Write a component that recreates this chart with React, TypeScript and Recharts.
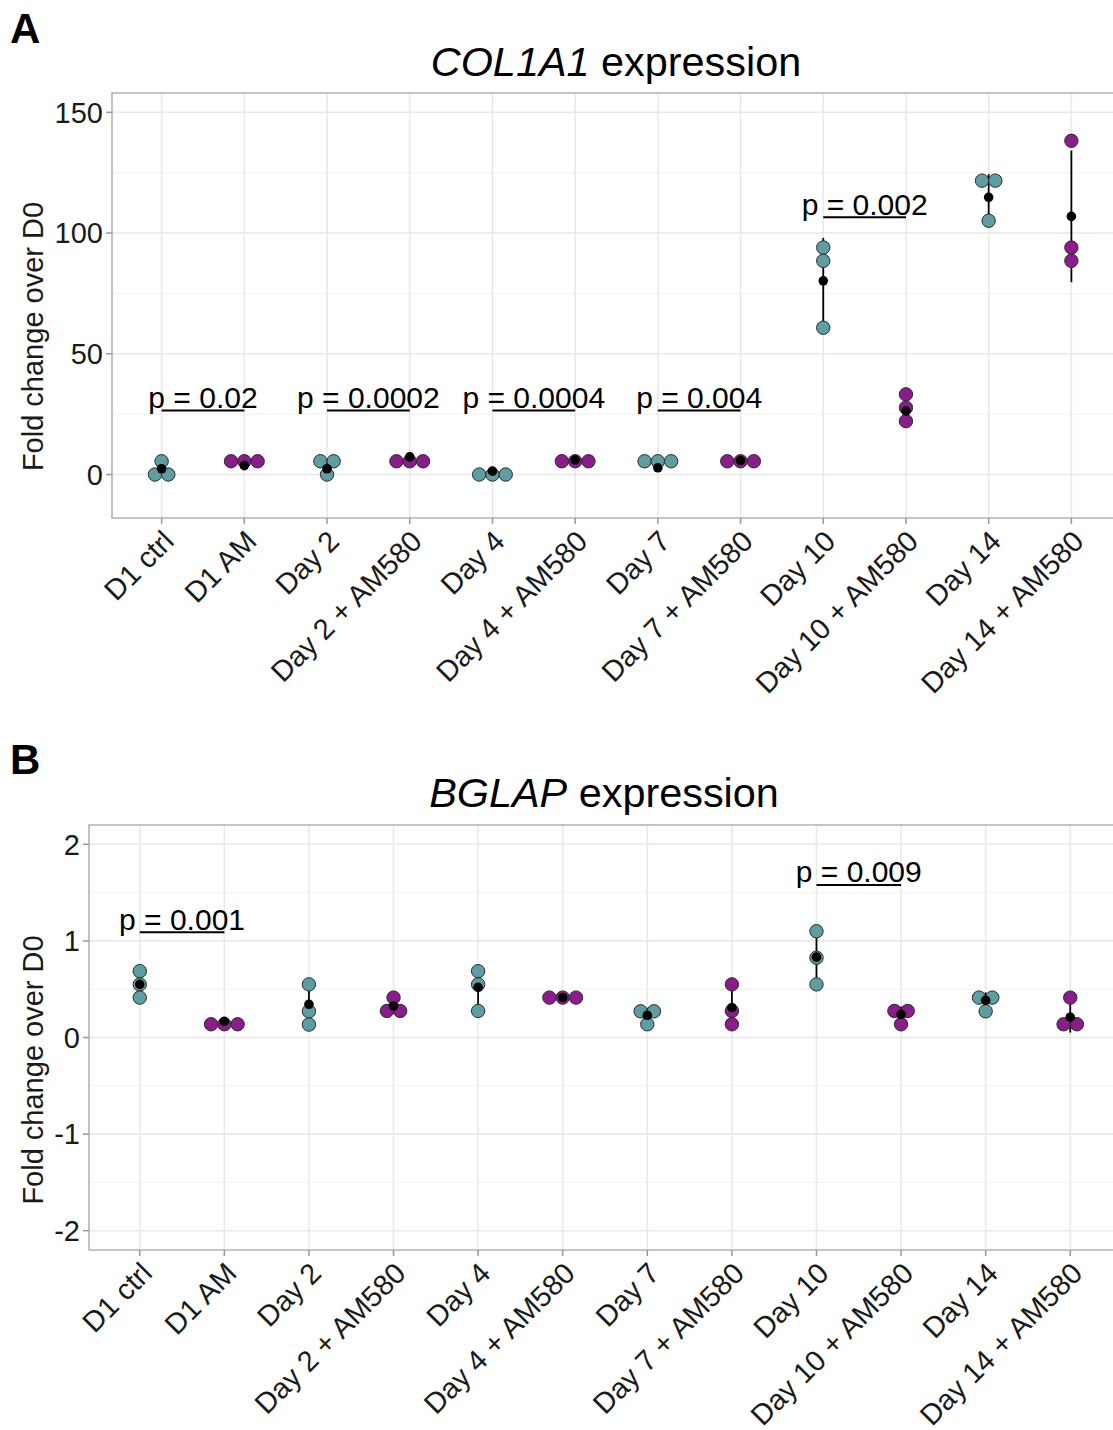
import React from "react";
import {
  CartesianGrid,
  ErrorBar,
  ReferenceArea,
  ReferenceLine,
  Scatter,
  ScatterChart,
  XAxis,
  YAxis,
} from "recharts";

const FONT = '"Liberation Sans", Arial, Helvetica, sans-serif';

const categories = [
  "D1 ctrl",
  "D1 AM",
  "Day 2",
  "Day 2 + AM580",
  "Day 4",
  "Day 4 + AM580",
  "Day 7",
  "Day 7 + AM580",
  "Day 10",
  "Day 10 + AM580",
  "Day 14",
  "Day 14 + AM580",
];

// replicate values per category, as the dots sit in the picture
const col1a1Reps = [
  [5.5, 0, 0],
  [5.5, 5.5, 5.5],
  [5.5, 5.5, 0],
  [5.5, 5.5, 5.5],
  [0, 0, 0],
  [5.5, 5.5, 5.5],
  [5.5, 5.5, 5.5],
  [5.5, 5.5, 5.5],
  [94.0, 88.5, 60.8],
  [33.2, 27.7, 22.1],
  [121.7, 121.7, 105.1],
  [138.2, 94.0, 88.5],
];
const col1a1Means = [2.4, 3.7, 2.4, 7.3, 1.4, 6.0, 2.8, 5.8, 80.2, 26.3, 114.8, 106.9];
const col1a1PFrom = [0, 2, 4, 6, 8];
const col1a1PY = [26.5, 26.5, 26.5, 26.5, 106.5];
const col1a1PLabels = ["p = 0.02", "p = 0.0002", "p = 0.0004", "p = 0.004", "p = 0.002"];
const col1a1Ticks = [0, 50, 100, 150];
const col1a1Minor = [25, 75, 125];

const bglapReps = [
  [0.687, 0.55, 0.413],
  [0.137, 0.137, 0.137],
  [0.55, 0.271, 0.134],
  [0.413, 0.275, 0.275],
  [0.687, 0.55, 0.275],
  [0.413, 0.413, 0.413],
  [0.271, 0.271, 0.137],
  [0.55, 0.275, 0.137],
  [1.1, 0.826, 0.55],
  [0.275, 0.275, 0.137],
  [0.413, 0.413, 0.271],
  [0.413, 0.137, 0.137],
];
const bglapMeans = [0.55, 0.168, 0.344, 0.326, 0.52, 0.413, 0.23, 0.31, 0.832, 0.24, 0.385, 0.21];
const bglapPFrom = [0, 8];
const bglapPY = [1.09, 1.58];
const bglapPLabels = ["p = 0.001", "p = 0.009"];
const bglapTicks = [-2, -1, 0, 1, 2];
const bglapMinor = [-1.5, -0.5, 0.5, 1.5];

const TEAL = "#5c9ea1";
const PURPLE = "#8b1c8b";
const DOT_R = 6.7;
const DOT_GAP = 13.3; // px between side-by-side dots
const CHART_W = 1122; // panel runs a little past the cropped right edge

function sd(vals: number[]) {
  const m = vals.reduce((a, b) => a + b, 0) / vals.length;
  return Math.sqrt(vals.reduce((a, b) => a + (b - m) ** 2, 0) / (vals.length - 1));
}

// centred dot-plot stacking: equal values sit side by side
function stackDots(reps: number[][], tol: number, step: number) {
  const pts: { x: number; y: number; treated: boolean }[] = [];
  reps.forEach((vals, i) => {
    const rows: number[][] = [];
    vals.forEach((v) => {
      const row = rows.find((r) => Math.abs(r[0] - v) < tol);
      if (row) row.push(v);
      else rows.push([v]);
    });
    rows.forEach((row) =>
      row.forEach((v, j) =>
        pts.push({ x: i + (j - (row.length - 1) / 2) * step, y: v, treated: i % 2 === 1 })
      )
    );
  });
  return pts;
}

function XTick(props: any) {
  const { x, y, payload } = props;
  const ax = x + 14;
  const ay = y + 19;
  return (
    <text
      x={ax}
      y={ay}
      textAnchor="end"
      transform={`rotate(-45 ${ax} ${ay})`}
      fontSize={29}
      fontFamily={FONT}
      fill="#1a1a1a"
    >
      {categories[payload.value]}
    </text>
  );
}

const Dot = (p: any) => (
  <circle
    cx={p.cx}
    cy={p.cy}
    r={DOT_R}
    fill={p.payload.treated ? PURPLE : TEAL}
    stroke="#2b2b2b"
    strokeWidth={1}
  />
);

const MeanDot = (p: any) => <circle cx={p.cx} cy={p.cy} r={4.8} fill="#000" />;

const PText = (p: any) => (
  <text x={p.cx} y={p.cy - 2.5} textAnchor="middle" fontSize={30} fontFamily={FONT} fill="#000">
    {p.payload.label}
  </text>
);

type PanelProps = {
  reps: number[][];
  means: number[];
  tol: number;
  domain: [number, number];
  ticks: number[];
  minor: number[];
  pFrom: number[];
  pY: number[];
  pLabels: string[];
  height: number;
  top: number;
  bottom: number;
  yWidth: number;
};

function Panel(props: PanelProps) {
  const { reps, means, tol, domain, ticks, minor, pFrom, pY, pLabels, height, top, bottom, yWidth } = props;
  const plotW = CHART_W - 1 - yWidth;
  const step = DOT_GAP / (plotW / 12.2);
  const dots = stackDots(reps, tol, step);
  const meanData = means.map((m, i) => ({ x: i, y: m, sd: sd(reps[i]) }));
  const pData = pFrom.map((f, k) => ({ x: f + 0.5, y: pY[k], label: pLabels[k] }));
  const xTicks = categories.map((_, i) => i);

  return (
    <ScatterChart width={CHART_W} height={height} margin={{ top, right: 1, bottom, left: 0 }}>
      <CartesianGrid
        horizontalValues={minor}
        vertical={false}
        stroke="#f2f2f2"
        strokeWidth={1}
      />
      <CartesianGrid
        horizontalValues={ticks}
        verticalValues={xTicks}
        stroke="#e9e9e9"
        strokeWidth={1.6}
      />
      <XAxis
        type="number"
        dataKey="x"
        domain={[-0.6, 11.6]}
        ticks={xTicks}
        interval={0}
        allowDataOverflow
        axisLine={false}
        tickLine={{ stroke: "#999", strokeWidth: 1.5 }}
        tickSize={6}
        tickMargin={0}
        height={170}
        tick={<XTick />}
      />
      <YAxis
        type="number"
        dataKey="y"
        domain={domain}
        ticks={ticks}
        interval={0}
        allowDataOverflow
        axisLine={false}
        width={yWidth}
        tickLine={{ stroke: "#999", strokeWidth: 1.5 }}
        tickSize={6}
        tickMargin={3}
        tick={{ fontSize: 29, fill: "#1a1a1a", fontFamily: FONT }}
      />
      <ReferenceArea
        x1={-0.6}
        x2={11.6}
        y1={domain[0]}
        y2={domain[1]}
        fill="none"
        stroke="#b3b3b3"
        strokeWidth={1.6}
        ifOverflow="visible"
      />
      {pFrom.map((f, k) => (
        <ReferenceLine
          key={k}
          segment={[
            { x: f, y: pY[k] },
            { x: f + 1, y: pY[k] },
          ]}
          stroke="#000"
          strokeWidth={2}
        />
      ))}
      <Scatter data={dots} shape={Dot} isAnimationActive={false} />
      <Scatter data={meanData} shape={MeanDot} isAnimationActive={false}>
        <ErrorBar dataKey="sd" direction="y" width={0} stroke="#000" strokeWidth={1.8} isAnimationActive={false} />
      </Scatter>
      <Scatter data={pData} shape={PText} isAnimationActive={false} />
    </ScatterChart>
  );
}

export default function App() {
  return (
    <div
      style={{
        position: "absolute",
        left: 0,
        top: 0,
        width: 1113,
        height: 1430,
        background: "#fff",
        overflow: "hidden",
      }}
    >
      <div style={{ position: "absolute", left: 0, top: 0 }}>
        <Panel
          reps={col1a1Reps}
          means={col1a1Means}
          tol={2}
          domain={[-18, 158]}
          ticks={col1a1Ticks}
          minor={col1a1Minor}
          pFrom={col1a1PFrom}
          pY={col1a1PY}
          pLabels={col1a1PLabels}
          height={720}
          top={93}
          bottom={32}
          yWidth={112}
        />
      </div>
      <div style={{ position: "absolute", left: 0, top: 720 }}>
        <Panel
          reps={bglapReps}
          means={bglapMeans}
          tol={0.05}
          domain={[-2.2, 2.2]}
          ticks={bglapTicks}
          minor={bglapMinor}
          pFrom={bglapPFrom}
          pY={bglapPY}
          pLabels={bglapPLabels}
          height={710}
          top={105}
          bottom={10}
          yWidth={89}
        />
      </div>
      <svg
        width={1113}
        height={1430}
        style={{ position: "absolute", left: 0, top: 0, pointerEvents: "none" }}
        fontFamily={FONT}
      >
        <text x={10} y={43} fontSize={42} fontWeight="bold" fill="#000">A</text>
        <text x={10} y={774} fontSize={42} fontWeight="bold" fill="#000">B</text>
        <text x={616} y={76} fontSize={41.4} textAnchor="middle" fill="#000">
          <tspan fontStyle="italic">COL1A1</tspan> expression
        </text>
        <text x={604} y={807} fontSize={41.4} textAnchor="middle" fill="#000">
          <tspan fontStyle="italic">BGLAP</tspan> expression
        </text>
        <text x={43} y={336.5} fontSize={29} textAnchor="middle" fill="#1a1a1a" transform="rotate(-90 43 336.5)">
          Fold change over D0
        </text>
        <text x={43} y={1070} fontSize={29} textAnchor="middle" fill="#1a1a1a" transform="rotate(-90 43 1070)">
          Fold change over D0
        </text>
      </svg>
    </div>
  );
}
